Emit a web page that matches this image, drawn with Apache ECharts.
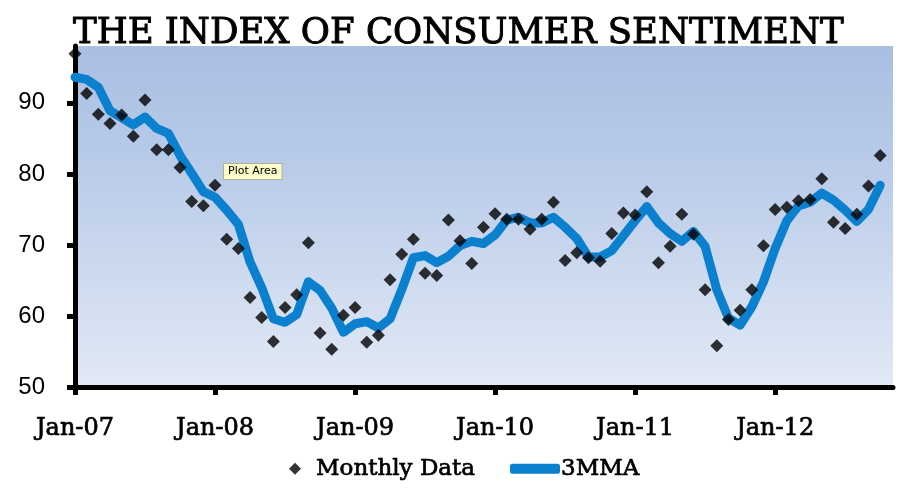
<!DOCTYPE html>
<html>
<head>
<meta charset="utf-8">
<script src="https://cdn.jsdelivr.net/npm/echarts@6/dist/echarts.min.js"></script>
<style>
  html, body { margin: 0; padding: 0; background: #fff; }
  #chart { width: 901px; height: 491px; }
</style>
</head>
<body>
<div id="chart"></div>
<script>
// months Jan-07 .. Oct-12
const months = [
  'Jan-07','Feb-07','Mar-07','Apr-07','May-07','Jun-07','Jul-07','Aug-07','Sep-07','Oct-07','Nov-07','Dec-07',
  'Jan-08','Feb-08','Mar-08','Apr-08','May-08','Jun-08','Jul-08','Aug-08','Sep-08','Oct-08','Nov-08','Dec-08',
  'Jan-09','Feb-09','Mar-09','Apr-09','May-09','Jun-09','Jul-09','Aug-09','Sep-09','Oct-09','Nov-09','Dec-09',
  'Jan-10','Feb-10','Mar-10','Apr-10','May-10','Jun-10','Jul-10','Aug-10','Sep-10','Oct-10','Nov-10','Dec-10',
  'Jan-11','Feb-11','Mar-11','Apr-11','May-11','Jun-11','Jul-11','Aug-11','Sep-11','Oct-11','Nov-11','Dec-11',
  'Jan-12','Feb-12','Mar-12','Apr-12','May-12','Jun-12','Jul-12','Aug-12','Sep-12','Oct-12'
]

const monthly = [
  96.9, 91.3, 88.4, 87.1, 88.3, 85.3, 90.4, 83.4, 83.4, 80.9, 76.1, 75.5,
  78.4, 70.8, 69.5, 62.6, 59.8, 56.4, 61.2, 63.0, 70.3, 57.6, 55.3, 60.1,
  61.2, 56.3, 57.3, 65.1, 68.7, 70.8, 66.0, 65.7, 73.5, 70.6, 67.4, 72.5,
  74.4, 73.6, 73.6, 72.2, 73.6, 76.0, 67.8, 68.9, 68.2, 67.7, 71.6, 74.5,
  74.2, 77.5, 67.5, 69.8, 74.3, 71.5, 63.7, 55.8, 59.5, 60.8, 63.7, 69.9,
  75.0, 75.3, 76.2, 76.4, 79.3, 73.2, 72.3, 74.3, 78.3, 82.6
]

const mma3 = [
  93.6, 93.3, 92.2, 88.9, 87.9, 86.9, 88.0, 86.4, 85.7, 82.6, 80.1, 77.5,
  76.7, 74.9, 72.9, 67.6, 64.0, 59.6, 59.1, 60.2, 64.8, 63.6, 61.1, 57.7,
  58.9, 59.2, 58.3, 59.6, 63.7, 68.2, 68.5, 67.5, 68.4, 69.9, 70.5, 70.2,
  71.4, 73.5, 73.9, 73.1, 73.1, 73.9, 72.5, 70.9, 68.3, 68.3, 69.2, 71.3,
  73.4, 75.4, 73.1, 71.6, 70.5, 71.9, 69.8, 63.7, 59.7, 58.7, 61.3, 64.8,
  69.5, 73.4, 75.5, 76.0, 77.3, 76.3, 74.9, 73.3, 75.0, 78.4
]

const yTicks = [50, 60, 70, 80, 90]

const serif = '"DejaVu Serif", "Liberation Serif", serif'

let myChart = echarts.init(document.getElementById('chart'))

// slab serif text looks heavier in the original, thicken it a little
let heavy = { textBorderColor: '#000', textBorderWidth: 0.7 }

let option = {
  animation: false,
  title: {
    text: 'THE INDEX OF CONSUMER SENTIMENT',
    left: 68,
    top: 11,
    textStyle: Object.assign({
      fontFamily: serif,
      fontWeight: 'normal',
      fontSize: 35.5,
      color: '#000'
    }, { textBorderColor: '#000', textBorderWidth: 1 })
  },
  legend: [
    {
      data: [{ name: 'Monthly Data', icon: 'diamond' }],
      left: 284,
      top: 452,
      itemWidth: 12,
      itemHeight: 12,
      textStyle: Object.assign({ fontFamily: serif, fontSize: 23, color: '#000', padding: [0, 0, 0, 10] }, heavy)
    },
    {
      data: [{ name: '3MMA', icon: 'roundRect' }],
      left: 505,
      top: 452,
      itemWidth: 50,
      itemHeight: 10,
      textStyle: Object.assign({ fontFamily: serif, fontSize: 23, color: '#000', padding: [0, 0, 0, -4] }, heavy)
    }
  ],
  grid: {
    left: 75,
    right: 8,
    top: 46,
    bottom: 104,
    show: true,
    borderWidth: 0,
    backgroundColor: new echarts.graphic.LinearGradient(0, 0, 0, 1, [
      { offset: 0, color: '#a9bfe2' },
      { offset: 0.3, color: '#b6c9e8' },
      { offset: 1, color: '#e2e9f5' }
    ])
  },
  xAxis: {
    type: 'value',
    min: 0,
    max: 70.1,
    interval: 12,
    splitLine: { show: false },
    axisLine: { lineStyle: { color: '#000', width: 5 } },
    axisTick: { length: 8, lineStyle: { color: '#000', width: 5 } },
    axisLabel: Object.assign({
      showMaxLabel: false,
      margin: 30,
      fontFamily: serif,
      fontSize: 24,
      color: '#000',
      formatter: function (v) { return months[v] || '' }
    }, heavy)
  },
  yAxis: {
    type: 'value',
    min: 50,
    max: 98,
    interval: 10,
    splitLine: { show: false },
    axisLine: { show: true, lineStyle: { color: '#000', width: 5 } },
    axisTick: { show: true, length: 8, lineStyle: { color: '#000', width: 5 } },
    axisLabel: {
      showMaxLabel: false,
      margin: 30,
      fontFamily: '"Liberation Sans", Arial, sans-serif',
      fontSize: 24,
      color: '#000',
      formatter: function (v) { return yTicks.indexOf(v) >= 0 ? v : '' }
    }
  },
  series: [
    {
      name: '3MMA',
      type: 'line',
      data: mma3.map((v, i) => [i, v]),
      showSymbol: false,
      lineStyle: { color: '#0a80cf', width: 9, cap: 'round', join: 'round' },
      itemStyle: { color: '#0a80cf' },
      z: 2
    },
    {
      name: 'Monthly Data',
      type: 'scatter',
      data: monthly.map((v, i) => [i, v]),
      symbol: 'diamond',
      symbolSize: 13,
      itemStyle: { color: '#000' },
      z: 3
    }
  ],
  graphic: [
    {
      type: 'text',
      left: 223,
      top: 163,
      z: 100,
      style: {
        text: 'Plot Area',
        font: '11px "DejaVu Sans", sans-serif',
        fill: '#000',
        backgroundColor: '#fbfbc8',
        borderColor: '#b0b0a0',
        borderWidth: 1,
        padding: [2, 4, 2, 4]
      }
    }
  ]
}

myChart.setOption(option, true)
</script>
</body>
</html>
